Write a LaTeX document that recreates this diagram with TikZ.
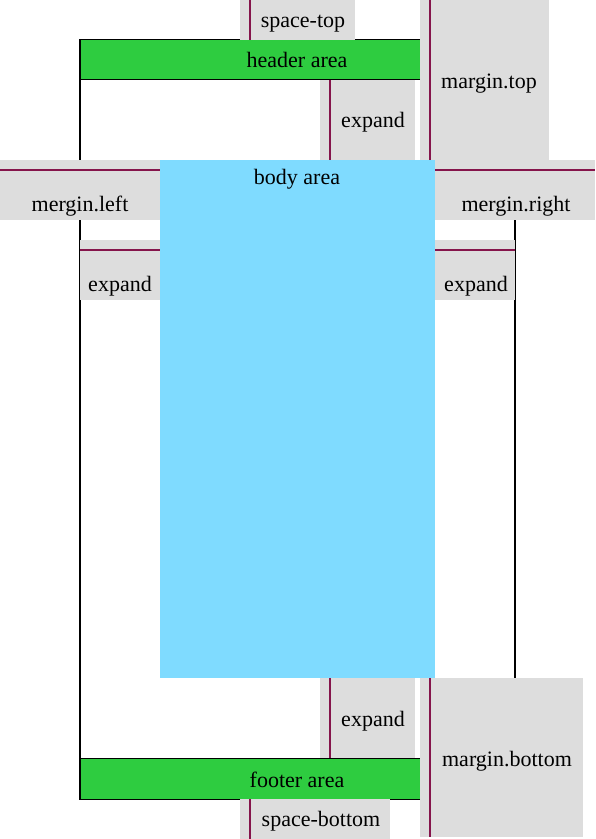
\documentclass[tikz,border=0pt]{standalone}
\usepackage{fontspec}
\setmainfont{Liberation Serif}
\definecolor{gapgray}{HTML}{DDDDDD}
\definecolor{areagreen}{HTML}{2ECC40}
\definecolor{bodyblue}{HTML}{7FDBFF}
\definecolor{rulemaroon}{HTML}{85144B}
\begin{document}
\begin{tikzpicture}[x=0.5pt, y=-0.5pt, font=\fontsize{11}{13}\selectfont,
	gapbox/.style={fill=gapgray},
	gaprule/.style={draw=rulemaroon, line width=1pt},
	areabox/.style={fill=areagreen, draw=black, line width=0.5pt},
	lbl/.style={anchor=base, inner sep=0pt}]
	\useasboundingbox (0, 0) rectangle (595, 839);

	% page frame
	\draw[line width=0.8pt] (80, 40) rectangle (515, 799);

	% header / footer
	\draw[areabox] (80, 40) rectangle (420, 80);
	\node[lbl] (header) at (297, 68) {header area};
	\draw[areabox] (80, 758) rectangle (420, 799);
	\node[lbl] (footer) at (297, 787) {footer area};

	% body
	\fill[bodyblue] (160, 160) rectangle (435, 678);
	\node[lbl] (body) at (297, 185) {body area};

	% space-top / space-bottom
	\fill[gapbox] (240, 0) rectangle (355, 40);
	\draw[gaprule] (250, 0) -- (250, 40);
	\node[lbl] (spacetop) at (303, 28) {space-top};
	\fill[gapbox] (240, 799) rectangle (390, 839);
	\draw[gaprule] (250, 799) -- (250, 839);
	\node[lbl] (spacebottom) at (321, 826) {space-bottom};

	% margins
	\fill[gapbox] (420, 0) rectangle (549, 160);
	\draw[gaprule] (430, 0) -- (430, 160);
	\node[lbl] (margintop) at (489, 89) {margin.top};
	\fill[gapbox] (420, 678) rectangle (583, 837);
	\draw[gaprule] (430, 678) -- (430, 837);
	\node[lbl] (marginbottom) at (507, 766) {margin.bottom};
	\fill[gapbox] (0, 160) rectangle (160, 220);
	\draw[gaprule] (0, 170) -- (160, 170);
	\node[lbl] (marginleft) at (80, 212) {mergin.left};
	\fill[gapbox] (435, 160) rectangle (595, 220);
	\draw[gaprule] (435, 170) -- (595, 170);
	\node[lbl] (marginright) at (516, 212) {mergin.right};

	% expand gaps
	\fill[gapbox] (320, 80) rectangle (415, 160);
	\draw[gaprule] (330, 80) -- (330, 160);
	\node[lbl] (expandtop) at (373, 128) {expand};
	\fill[gapbox] (320, 678) rectangle (415, 758);
	\draw[gaprule] (330, 678) -- (330, 758);
	\node[lbl] (expandbottom) at (373, 726) {expand};
	\fill[gapbox] (80, 240) rectangle (160, 300);
	\draw[gaprule] (80, 250) -- (160, 250);
	\node[lbl] (expandleft) at (120, 292) {expand};
	\fill[gapbox] (435, 240) rectangle (515, 300);
	\draw[gaprule] (435, 250) -- (515, 250);
	\node[lbl] (expandright) at (476, 292) {expand};
\end{tikzpicture}
\end{document}
